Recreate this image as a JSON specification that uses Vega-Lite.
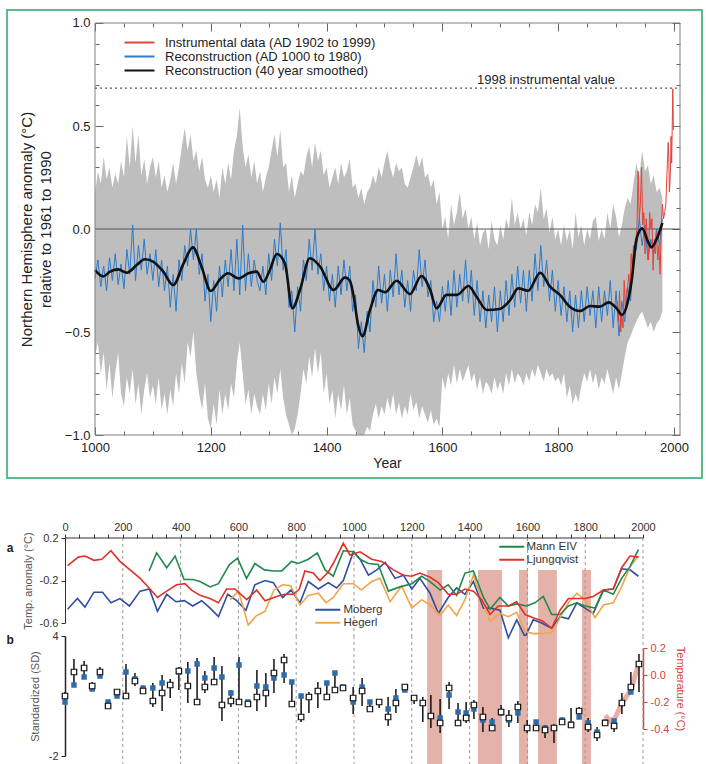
{
  "$schema": "https://vega.github.io/schema/vega-lite/v6.json",
  "padding": {"left": 6, "top": 9, "right": 0, "bottom": 0},
  "background": "white",
  "config": {"font": "Liberation Sans", "view": {"stroke": null}},
  "datasets": {
    "mbh": [
      {"yr":1000,"hi":0.17,"lo":-0.62,"rec":-0.24},{"yr":1005,"hi":0.28,"lo":-0.55,"rec":-0.15},{"yr":1010,"hi":0.22,"lo":-0.70,"rec":-0.28},{"yr":1015,"hi":0.35,"lo":-0.60,"rec":-0.18},{"yr":1020,"hi":0.24,"lo":-0.78,"rec":-0.30},{"yr":1025,"hi":0.30,"lo":-0.65,"rec":-0.14},{"yr":1030,"hi":0.20,"lo":-0.82,"rec":-0.25},{"yr":1035,"hi":0.27,"lo":-0.70,"rec":-0.12},{"yr":1040,"hi":0.22,"lo":-0.60,"rec":-0.27},{"yr":1045,"hi":0.33,"lo":-0.80,"rec":-0.17},
      {"yr":1050,"hi":0.25,"lo":-0.86,"rec":-0.29},{"yr":1055,"hi":0.45,"lo":-0.72,"rec":-0.10},{"yr":1060,"hi":0.30,"lo":-0.80,"rec":-0.22},{"yr":1065,"hi":0.50,"lo":-0.68,"rec":0.02},{"yr":1070,"hi":0.32,"lo":-0.85,"rec":-0.25},{"yr":1075,"hi":0.46,"lo":-0.75,"rec":-0.08},{"yr":1080,"hi":0.26,"lo":-0.90,"rec":-0.20},{"yr":1085,"hi":0.34,"lo":-0.78,"rec":-0.05},{"yr":1090,"hi":0.22,"lo":-0.70,"rec":-0.22},{"yr":1095,"hi":0.30,"lo":-0.82,"rec":-0.12},
      {"yr":1100,"hi":0.35,"lo":-0.76,"rec":-0.25},{"yr":1105,"hi":0.25,"lo":-0.85,"rec":-0.10},{"yr":1110,"hi":0.33,"lo":-0.72,"rec":-0.28},{"yr":1115,"hi":0.20,"lo":-0.88,"rec":-0.15},{"yr":1120,"hi":0.26,"lo":-0.80,"rec":-0.30},{"yr":1125,"hi":0.18,"lo":-0.90,"rec":-0.18},{"yr":1130,"hi":0.24,"lo":-0.78,"rec":-0.38},{"yr":1135,"hi":0.32,"lo":-0.86,"rec":-0.22},{"yr":1140,"hi":0.22,"lo":-0.70,"rec":-0.40},{"yr":1145,"hi":0.30,"lo":-0.80,"rec":-0.15},
      {"yr":1150,"hi":0.40,"lo":-0.65,"rec":-0.25},{"yr":1155,"hi":0.49,"lo":-0.75,"rec":-0.08},{"yr":1160,"hi":0.38,"lo":-0.55,"rec":-0.18},{"yr":1165,"hi":0.46,"lo":-0.62,"rec":0.00},{"yr":1170,"hi":0.33,"lo":-0.50,"rec":-0.15},{"yr":1175,"hi":0.38,"lo":-0.70,"rec":0.00},{"yr":1180,"hi":0.28,"lo":-0.80,"rec":-0.22},{"yr":1185,"hi":0.35,"lo":-0.88,"rec":-0.12},{"yr":1190,"hi":0.24,"lo":-0.75,"rec":-0.35},{"yr":1195,"hi":0.20,"lo":-0.92,"rec":-0.22},
      {"yr":1200,"hi":0.26,"lo":-0.97,"rec":-0.45},{"yr":1205,"hi":0.18,"lo":-0.85,"rec":-0.25},{"yr":1210,"hi":0.24,"lo":-0.95,"rec":-0.40},{"yr":1215,"hi":0.15,"lo":-0.78,"rec":-0.18},{"yr":1220,"hi":0.30,"lo":-0.90,"rec":-0.33},{"yr":1225,"hi":0.22,"lo":-0.80,"rec":-0.15},{"yr":1230,"hi":0.32,"lo":-0.88,"rec":-0.28},{"yr":1235,"hi":0.24,"lo":-0.75,"rec":-0.10},{"yr":1240,"hi":0.38,"lo":-0.82,"rec":-0.30},{"yr":1245,"hi":0.45,"lo":-0.65,"rec":-0.05},
      {"yr":1250,"hi":0.59,"lo":-0.55,"rec":-0.32},{"yr":1255,"hi":0.40,"lo":-0.70,"rec":0.02},{"yr":1260,"hi":0.30,"lo":-0.85,"rec":-0.30},{"yr":1265,"hi":0.36,"lo":-0.78,"rec":-0.12},{"yr":1270,"hi":0.25,"lo":-0.90,"rec":-0.28},{"yr":1275,"hi":0.33,"lo":-0.80,"rec":-0.15},{"yr":1280,"hi":0.22,"lo":-0.86,"rec":-0.25},{"yr":1285,"hi":0.28,"lo":-0.90,"rec":-0.30},{"yr":1290,"hi":0.18,"lo":-0.80,"rec":-0.18},{"yr":1295,"hi":0.25,"lo":-0.88,"rec":-0.32},
      {"yr":1300,"hi":0.30,"lo":-0.75,"rec":-0.12},{"yr":1305,"hi":0.38,"lo":-0.85,"rec":-0.25},{"yr":1310,"hi":0.46,"lo":-0.72,"rec":-0.05},{"yr":1315,"hi":0.35,"lo":-0.80,"rec":-0.18},{"yr":1320,"hi":0.48,"lo":-0.68,"rec":0.03},{"yr":1325,"hi":0.30,"lo":-0.82,"rec":-0.20},{"yr":1330,"hi":0.32,"lo":-0.90,"rec":-0.10},{"yr":1335,"hi":0.18,"lo":-0.95,"rec":-0.38},{"yr":1340,"hi":0.26,"lo":-1.00,"rec":-0.30},{"yr":1345,"hi":0.15,"lo":-0.97,"rec":-0.50},
      {"yr":1350,"hi":0.22,"lo":-0.90,"rec":-0.28},{"yr":1355,"hi":0.28,"lo":-0.80,"rec":-0.40},{"yr":1360,"hi":0.26,"lo":-0.68,"rec":-0.15},{"yr":1365,"hi":0.35,"lo":-0.75,"rec":-0.25},{"yr":1370,"hi":0.40,"lo":-0.62,"rec":-0.05},{"yr":1375,"hi":0.30,"lo":-0.72,"rec":-0.20},{"yr":1380,"hi":0.42,"lo":-0.58,"rec":0.00},{"yr":1385,"hi":0.33,"lo":-0.70,"rec":-0.22},{"yr":1390,"hi":0.38,"lo":-0.60,"rec":-0.12},{"yr":1395,"hi":0.26,"lo":-0.80,"rec":-0.30},
      {"yr":1400,"hi":0.30,"lo":-0.70,"rec":-0.18},{"yr":1405,"hi":0.20,"lo":-0.85,"rec":-0.35},{"yr":1410,"hi":0.25,"lo":-0.78,"rec":-0.22},{"yr":1415,"hi":0.30,"lo":-0.92,"rec":-0.38},{"yr":1420,"hi":0.22,"lo":-0.80,"rec":-0.18},{"yr":1425,"hi":0.32,"lo":-0.88,"rec":-0.32},{"yr":1430,"hi":0.25,"lo":-0.76,"rec":-0.15},{"yr":1435,"hi":0.28,"lo":-0.90,"rec":-0.30},{"yr":1440,"hi":0.34,"lo":-0.82,"rec":-0.18},{"yr":1445,"hi":0.20,"lo":-0.95,"rec":-0.40},
      {"yr":1450,"hi":0.22,"lo":-0.98,"rec":-0.32},{"yr":1455,"hi":0.15,"lo":-1.00,"rec":-0.58},{"yr":1460,"hi":0.20,"lo":-1.00,"rec":-0.45},{"yr":1465,"hi":0.12,"lo":-1.00,"rec":-0.60},{"yr":1470,"hi":0.18,"lo":-0.96,"rec":-0.40},{"yr":1475,"hi":0.20,"lo":-0.98,"rec":-0.50},{"yr":1480,"hi":0.26,"lo":-0.90,"rec":-0.25},{"yr":1485,"hi":0.22,"lo":-0.85,"rec":-0.38},{"yr":1490,"hi":0.30,"lo":-0.92,"rec":-0.18},{"yr":1495,"hi":0.25,"lo":-0.86,"rec":-0.36},
      {"yr":1500,"hi":0.32,"lo":-0.90,"rec":-0.22},{"yr":1505,"hi":0.38,"lo":-0.82,"rec":-0.40},{"yr":1510,"hi":0.30,"lo":-0.88,"rec":-0.20},{"yr":1515,"hi":0.25,"lo":-0.80,"rec":-0.33},{"yr":1520,"hi":0.32,"lo":-0.90,"rec":-0.12},{"yr":1525,"hi":0.28,"lo":-0.84,"rec":-0.32},{"yr":1530,"hi":0.30,"lo":-0.92,"rec":-0.20},{"yr":1535,"hi":0.22,"lo":-0.86,"rec":-0.38},{"yr":1540,"hi":0.20,"lo":-0.90,"rec":-0.25},{"yr":1545,"hi":0.25,"lo":-0.80,"rec":-0.40},
      {"yr":1550,"hi":0.30,"lo":-0.88,"rec":-0.20},{"yr":1555,"hi":0.36,"lo":-0.84,"rec":-0.30},{"yr":1560,"hi":0.30,"lo":-0.92,"rec":-0.10},{"yr":1565,"hi":0.35,"lo":-0.86,"rec":-0.28},{"yr":1570,"hi":0.25,"lo":-0.90,"rec":-0.15},{"yr":1575,"hi":0.27,"lo":-0.94,"rec":-0.33},{"yr":1580,"hi":0.20,"lo":-0.88,"rec":-0.25},{"yr":1585,"hi":0.24,"lo":-0.95,"rec":-0.45},{"yr":1590,"hi":0.12,"lo":-0.92,"rec":-0.35},{"yr":1595,"hi":0.18,"lo":-0.96,"rec":-0.45},
      {"yr":1600,"hi":0.00,"lo":-0.72,"rec":-0.28},{"yr":1605,"hi":0.06,"lo":-0.78,"rec":-0.40},{"yr":1610,"hi":-0.05,"lo":-0.70,"rec":-0.25},{"yr":1615,"hi":0.12,"lo":-0.76,"rec":-0.42},{"yr":1620,"hi":0.02,"lo":-0.66,"rec":-0.20},{"yr":1625,"hi":0.08,"lo":-0.75,"rec":-0.38},{"yr":1630,"hi":0.18,"lo":-0.68,"rec":-0.22},{"yr":1635,"hi":0.05,"lo":-0.74,"rec":-0.35},{"yr":1640,"hi":0.10,"lo":-0.70,"rec":-0.15},{"yr":1645,"hi":0.00,"lo":-0.66,"rec":-0.36},
      {"yr":1650,"hi":0.06,"lo":-0.74,"rec":-0.20},{"yr":1655,"hi":-0.05,"lo":-0.70,"rec":-0.42},{"yr":1660,"hi":0.03,"lo":-0.78,"rec":-0.25},{"yr":1665,"hi":-0.08,"lo":-0.72,"rec":-0.45},{"yr":1670,"hi":-0.02,"lo":-0.80,"rec":-0.30},{"yr":1675,"hi":0.00,"lo":-0.74,"rec":-0.48},{"yr":1680,"hi":-0.10,"lo":-0.76,"rec":-0.32},{"yr":1685,"hi":0.04,"lo":-0.80,"rec":-0.45},{"yr":1690,"hi":-0.05,"lo":-0.72,"rec":-0.28},{"yr":1695,"hi":-0.08,"lo":-0.78,"rec":-0.50},
      {"yr":1700,"hi":0.02,"lo":-0.74,"rec":-0.30},{"yr":1705,"hi":-0.05,"lo":-0.80,"rec":-0.45},{"yr":1710,"hi":0.05,"lo":-0.70,"rec":-0.25},{"yr":1715,"hi":0.00,"lo":-0.76,"rec":-0.42},{"yr":1720,"hi":0.15,"lo":-0.68,"rec":-0.22},{"yr":1725,"hi":0.02,"lo":-0.75,"rec":-0.38},{"yr":1730,"hi":0.08,"lo":-0.70,"rec":-0.18},{"yr":1735,"hi":0.00,"lo":-0.72,"rec":-0.36},{"yr":1740,"hi":0.05,"lo":-0.76,"rec":-0.20},{"yr":1745,"hi":-0.03,"lo":-0.70,"rec":-0.40},
      {"yr":1750,"hi":0.08,"lo":-0.74,"rec":-0.20},{"yr":1755,"hi":0.02,"lo":-0.68,"rec":-0.35},{"yr":1760,"hi":0.12,"lo":-0.72,"rec":-0.12},{"yr":1765,"hi":0.08,"lo":-0.66,"rec":-0.30},{"yr":1770,"hi":0.20,"lo":-0.70,"rec":-0.08},{"yr":1775,"hi":0.05,"lo":-0.74,"rec":-0.28},{"yr":1780,"hi":0.10,"lo":-0.68,"rec":-0.15},{"yr":1785,"hi":-0.02,"lo":-0.72,"rec":-0.35},{"yr":1790,"hi":0.06,"lo":-0.70,"rec":-0.20},{"yr":1795,"hi":-0.05,"lo":-0.74,"rec":-0.40},
      {"yr":1800,"hi":0.00,"lo":-0.72,"rec":-0.25},{"yr":1805,"hi":-0.08,"lo":-0.76,"rec":-0.42},{"yr":1810,"hi":0.02,"lo":-0.70,"rec":-0.28},{"yr":1815,"hi":-0.06,"lo":-0.82,"rec":-0.45},{"yr":1820,"hi":0.00,"lo":-0.76,"rec":-0.30},{"yr":1825,"hi":-0.10,"lo":-0.85,"rec":-0.50},{"yr":1830,"hi":0.08,"lo":-0.80,"rec":-0.32},{"yr":1835,"hi":-0.04,"lo":-0.84,"rec":-0.48},{"yr":1840,"hi":0.02,"lo":-0.76,"rec":-0.30},{"yr":1845,"hi":-0.08,"lo":-0.70,"rec":-0.45},
      {"yr":1850,"hi":0.00,"lo":-0.74,"rec":-0.28},{"yr":1855,"hi":-0.05,"lo":-0.68,"rec":-0.42},{"yr":1860,"hi":0.04,"lo":-0.75,"rec":-0.30},{"yr":1865,"hi":0.06,"lo":-0.70,"rec":-0.48},{"yr":1870,"hi":-0.06,"lo":-0.78,"rec":-0.28},{"yr":1875,"hi":0.00,"lo":-0.72,"rec":-0.45},{"yr":1880,"hi":-0.05,"lo":-0.75,"rec":-0.30},{"yr":1885,"hi":0.08,"lo":-0.68,"rec":-0.42},{"yr":1890,"hi":0.00,"lo":-0.74,"rec":-0.25},{"yr":1895,"hi":0.12,"lo":-0.80,"rec":-0.48},
      {"yr":1900,"hi":0.06,"lo":-0.72,"rec":-0.30},{"yr":1905,"hi":-0.04,"lo":-0.78,"rec":-0.52},{"yr":1910,"hi":0.02,"lo":-0.70,"rec":-0.35},{"yr":1915,"hi":0.10,"lo":-0.62,"rec":-0.45},{"yr":1920,"hi":0.15,"lo":-0.55,"rec":-0.28},{"yr":1925,"hi":0.12,"lo":-0.52,"rec":-0.35},{"yr":1930,"hi":0.22,"lo":-0.48,"rec":-0.12},{"yr":1935,"hi":0.32,"lo":-0.45,"rec":-0.10},{"yr":1940,"hi":0.25,"lo":-0.42,"rec":0.05},{"yr":1945,"hi":0.38,"lo":-0.40,"rec":-0.08},
      {"yr":1950,"hi":0.28,"lo":-0.44,"rec":0.02},{"yr":1955,"hi":0.31,"lo":-0.48,"rec":-0.15},{"yr":1960,"hi":0.22,"lo":-0.45,"rec":-0.05},{"yr":1965,"hi":0.26,"lo":-0.50,"rec":-0.12},{"yr":1970,"hi":0.18,"lo":-0.46,"rec":0.00},{"yr":1975,"hi":0.20,"lo":-0.44,"rec":-0.08},{"yr":1980,"hi":0.15,"lo":-0.40,"rec":0.05}
    ],
    "inst": [
      {"yr":1902,"t":-0.35},{"yr":1904,"t":-0.45},{"yr":1906,"t":-0.30},{"yr":1908,"t":-0.50},{"yr":1910,"t":-0.42},{"yr":1912,"t":-0.48},{"yr":1914,"t":-0.25},{"yr":1916,"t":-0.38},{"yr":1918,"t":-0.30},{"yr":1920,"t":-0.28},
      {"yr":1922,"t":-0.22},{"yr":1924,"t":-0.30},{"yr":1926,"t":-0.12},{"yr":1928,"t":-0.20},{"yr":1930,"t":-0.08},{"yr":1932,"t":-0.15},{"yr":1934,"t":-0.05},{"yr":1936,"t":0.00},{"yr":1938,"t":0.28},{"yr":1940,"t":0.05},
      {"yr":1942,"t":0.12},{"yr":1944,"t":0.30},{"yr":1946,"t":0.02},{"yr":1948,"t":0.08},{"yr":1950,"t":-0.12},{"yr":1952,"t":0.05},{"yr":1954,"t":-0.05},{"yr":1956,"t":-0.15},{"yr":1958,"t":0.08},{"yr":1960,"t":0.00},
      {"yr":1962,"t":0.05},{"yr":1964,"t":-0.20},{"yr":1966,"t":-0.05},{"yr":1968,"t":-0.12},{"yr":1970,"t":-0.02},{"yr":1972,"t":-0.15},{"yr":1974,"t":-0.08},{"yr":1976,"t":-0.22},{"yr":1978,"t":0.00},{"yr":1980,"t":0.12},
      {"yr":1982,"t":0.05},{"yr":1984,"t":0.08},{"yr":1986,"t":0.12},{"yr":1988,"t":0.28},{"yr":1990,"t":0.42},{"yr":1991,"t":0.36},{"yr":1992,"t":0.18},{"yr":1993,"t":0.22},{"yr":1994,"t":0.30},{"yr":1995,"t":0.45},
      {"yr":1996,"t":0.32},{"yr":1997,"t":0.50},{"yr":1998,"t":0.68},{"yr":1999,"t":0.48}
    ],
    "smooth": [
      {"yr":1000,"t":-0.20},{"yr":1014,"t":-0.23},{"yr":1026,"t":-0.207},{"yr":1040,"t":-0.196},{"yr":1055,"t":-0.212},{"yr":1072,"t":-0.175},{"yr":1086,"t":-0.147},{"yr":1101,"t":-0.159},{"yr":1118,"t":-0.207},{"yr":1135,"t":-0.272},
      {"yr":1153,"t":-0.167},{"yr":1169,"t":-0.089},{"yr":1184,"t":-0.183},{"yr":1200,"t":-0.301},{"yr":1216,"t":-0.244},{"yr":1230,"t":-0.215},{"yr":1248,"t":-0.24},{"yr":1265,"t":-0.215},{"yr":1279,"t":-0.207},{"yr":1291,"t":-0.256},
      {"yr":1302,"t":-0.199},{"yr":1314,"t":-0.121},{"yr":1328,"t":-0.167},{"yr":1341,"t":-0.385},{"yr":1354,"t":-0.296},{"yr":1371,"t":-0.142},{"yr":1389,"t":-0.183},{"yr":1412,"t":-0.296},{"yr":1432,"t":-0.235},{"yr":1440,"t":-0.25},
      {"yr":1447,"t":-0.33},{"yr":1454,"t":-0.46},{"yr":1462,"t":-0.52},{"yr":1475,"t":-0.393},{"yr":1489,"t":-0.296},{"yr":1501,"t":-0.307},{"yr":1521,"t":-0.251},{"yr":1544,"t":-0.316},{"yr":1564,"t":-0.228},{"yr":1579,"t":-0.296},
      {"yr":1590,"t":-0.385},{"yr":1607,"t":-0.32},{"yr":1625,"t":-0.32},{"yr":1645,"t":-0.277},{"yr":1659,"t":-0.329},{"yr":1677,"t":-0.393},{"yr":1699,"t":-0.388},{"yr":1717,"t":-0.345},{"yr":1731,"t":-0.288},{"yr":1748,"t":-0.30},
      {"yr":1769,"t":-0.212},{"yr":1786,"t":-0.28},{"yr":1803,"t":-0.32},{"yr":1820,"t":-0.377},{"yr":1838,"t":-0.398},{"yr":1855,"t":-0.374},{"yr":1872,"t":-0.377},{"yr":1887,"t":-0.356},{"yr":1901,"t":-0.385},{"yr":1910,"t":-0.417},
      {"yr":1918,"t":-0.377},{"yr":1927,"t":-0.248},{"yr":1935,"t":-0.053},{"yr":1945,"t":0.003},{"yr":1955,"t":-0.06},{"yr":1961,"t":-0.089},{"yr":1970,"t":-0.05},{"yr":1980,"t":0.03}
    ],
    "a1": [
      {"s":"Mann EIV","yr":291,"t":-0.11},{"s":"Mann EIV","yr":317,"t":0.06},{"s":"Mann EIV","yr":352,"t":-0.08},{"s":"Mann EIV","yr":381,"t":0.03},{"s":"Mann EIV","yr":412,"t":-0.19},{"s":"Mann EIV","yr":442,"t":-0.19},{"s":"Mann EIV","yr":467,"t":-0.21},{"s":"Mann EIV","yr":502,"t":-0.26},{"s":"Mann EIV","yr":531,"t":-0.23},{"s":"Mann EIV","yr":569,"t":-0.05},
      {"s":"Mann EIV","yr":597,"t":0.01},{"s":"Mann EIV","yr":628,"t":-0.18},{"s":"Mann EIV","yr":657,"t":-0.04},{"s":"Mann EIV","yr":690,"t":-0.10},{"s":"Mann EIV","yr":721,"t":-0.11},{"s":"Mann EIV","yr":750,"t":-0.11},{"s":"Mann EIV","yr":784,"t":-0.02},{"s":"Mann EIV","yr":807,"t":-0.04},{"s":"Mann EIV","yr":842,"t":0.0},{"s":"Mann EIV","yr":873,"t":0.06},
      {"s":"Mann EIV","yr":900,"t":-0.10},{"s":"Mann EIV","yr":928,"t":-0.16},{"s":"Mann EIV","yr":963,"t":0.08},{"s":"Mann EIV","yr":998,"t":0.07},{"s":"Mann EIV","yr":1021,"t":0.0},{"s":"Mann EIV","yr":1050,"t":-0.04},{"s":"Mann EIV","yr":1084,"t":-0.05},{"s":"Mann EIV","yr":1119,"t":-0.30},{"s":"Mann EIV","yr":1159,"t":-0.26},{"s":"Mann EIV","yr":1200,"t":-0.23},
      {"s":"Mann EIV","yr":1234,"t":-0.16},{"s":"Mann EIV","yr":1263,"t":-0.21},{"s":"Mann EIV","yr":1298,"t":-0.29},{"s":"Mann EIV","yr":1326,"t":-0.24},{"s":"Mann EIV","yr":1355,"t":-0.34},{"s":"Mann EIV","yr":1384,"t":-0.13},{"s":"Mann EIV","yr":1413,"t":-0.11},{"s":"Mann EIV","yr":1448,"t":-0.36},{"s":"Mann EIV","yr":1471,"t":-0.47},{"s":"Mann EIV","yr":1505,"t":-0.36},
      {"s":"Mann EIV","yr":1534,"t":-0.44},{"s":"Mann EIV","yr":1563,"t":-0.42},{"s":"Mann EIV","yr":1597,"t":-0.44},{"s":"Mann EIV","yr":1626,"t":-0.41},{"s":"Mann EIV","yr":1655,"t":-0.35},{"s":"Mann EIV","yr":1684,"t":-0.52},{"s":"Mann EIV","yr":1713,"t":-0.52},{"s":"Mann EIV","yr":1742,"t":-0.44},{"s":"Mann EIV","yr":1771,"t":-0.41},{"s":"Mann EIV","yr":1799,"t":-0.44},
      {"s":"Mann EIV","yr":1834,"t":-0.46},{"s":"Mann EIV","yr":1863,"t":-0.29},{"s":"Mann EIV","yr":1897,"t":-0.33},{"s":"Mann EIV","yr":1926,"t":-0.18},{"s":"Mann EIV","yr":1955,"t":-0.07},{"s":"Mann EIV","yr":1984,"t":0.09},
      {"s":"Ljungqvist","yr":9,"t":-0.06},{"s":"Ljungqvist","yr":46,"t":0.02},{"s":"Ljungqvist","yr":69,"t":0.03},{"s":"Ljungqvist","yr":100,"t":-0.01},{"s":"Ljungqvist","yr":127,"t":0.0},{"s":"Ljungqvist","yr":159,"t":0.08},{"s":"Ljungqvist","yr":190,"t":-0.02},{"s":"Ljungqvist","yr":225,"t":-0.10},{"s":"Ljungqvist","yr":260,"t":-0.18},{"s":"Ljungqvist","yr":294,"t":-0.28},
      {"s":"Ljungqvist","yr":320,"t":-0.36},{"s":"Ljungqvist","yr":352,"t":-0.30},{"s":"Ljungqvist","yr":386,"t":-0.24},{"s":"Ljungqvist","yr":415,"t":-0.23},{"s":"Ljungqvist","yr":438,"t":-0.29},{"s":"Ljungqvist","yr":467,"t":-0.34},{"s":"Ljungqvist","yr":502,"t":-0.37},{"s":"Ljungqvist","yr":531,"t":-0.41},{"s":"Ljungqvist","yr":559,"t":-0.28},{"s":"Ljungqvist","yr":588,"t":-0.28},
      {"s":"Ljungqvist","yr":629,"t":-0.38},{"s":"Ljungqvist","yr":663,"t":-0.29},{"s":"Ljungqvist","yr":692,"t":-0.39},{"s":"Ljungqvist","yr":732,"t":-0.35},{"s":"Ljungqvist","yr":761,"t":-0.33},{"s":"Ljungqvist","yr":790,"t":-0.33},{"s":"Ljungqvist","yr":811,"t":-0.28},{"s":"Ljungqvist","yr":830,"t":-0.11},{"s":"Ljungqvist","yr":859,"t":-0.13},{"s":"Ljungqvist","yr":882,"t":-0.20},
      {"s":"Ljungqvist","yr":911,"t":-0.12},{"s":"Ljungqvist","yr":928,"t":-0.04},{"s":"Ljungqvist","yr":963,"t":0.15},{"s":"Ljungqvist","yr":986,"t":0.04},{"s":"Ljungqvist","yr":1021,"t":0.07},{"s":"Ljungqvist","yr":1061,"t":0.0},{"s":"Ljungqvist","yr":1096,"t":-0.02},{"s":"Ljungqvist","yr":1136,"t":-0.10},{"s":"Ljungqvist","yr":1171,"t":-0.15},{"s":"Ljungqvist","yr":1200,"t":-0.16},
      {"s":"Ljungqvist","yr":1228,"t":-0.13},{"s":"Ljungqvist","yr":1263,"t":-0.17},{"s":"Ljungqvist","yr":1292,"t":-0.22},{"s":"Ljungqvist","yr":1326,"t":-0.33},{"s":"Ljungqvist","yr":1355,"t":-0.33},{"s":"Ljungqvist","yr":1384,"t":-0.28},{"s":"Ljungqvist","yr":1413,"t":-0.30},{"s":"Ljungqvist","yr":1442,"t":-0.38},{"s":"Ljungqvist","yr":1471,"t":-0.52},{"s":"Ljungqvist","yr":1499,"t":-0.44},
      {"s":"Ljungqvist","yr":1534,"t":-0.44},{"s":"Ljungqvist","yr":1563,"t":-0.40},{"s":"Ljungqvist","yr":1592,"t":-0.52},{"s":"Ljungqvist","yr":1620,"t":-0.55},{"s":"Ljungqvist","yr":1652,"t":-0.58},{"s":"Ljungqvist","yr":1684,"t":-0.65},{"s":"Ljungqvist","yr":1713,"t":-0.48},{"s":"Ljungqvist","yr":1742,"t":-0.37},{"s":"Ljungqvist","yr":1771,"t":-0.37},{"s":"Ljungqvist","yr":1799,"t":-0.37},
      {"s":"Ljungqvist","yr":1828,"t":-0.35},{"s":"Ljungqvist","yr":1863,"t":-0.29},{"s":"Ljungqvist","yr":1897,"t":-0.28},{"s":"Ljungqvist","yr":1926,"t":-0.08},{"s":"Ljungqvist","yr":1955,"t":0.03},{"s":"Ljungqvist","yr":1984,"t":0.02}
    ],
    "a2": [
      {"s":"Moberg","yr":9,"t":-0.47},{"s":"Moberg","yr":43,"t":-0.37},{"s":"Moberg","yr":69,"t":-0.45},{"s":"Moberg","yr":100,"t":-0.31},{"s":"Moberg","yr":130,"t":-0.31},{"s":"Moberg","yr":159,"t":-0.41},{"s":"Moberg","yr":190,"t":-0.37},{"s":"Moberg","yr":223,"t":-0.44},{"s":"Moberg","yr":260,"t":-0.30},{"s":"Moberg","yr":292,"t":-0.28},
      {"s":"Moberg","yr":320,"t":-0.49},{"s":"Moberg","yr":352,"t":-0.33},{"s":"Moberg","yr":384,"t":-0.40},{"s":"Moberg","yr":413,"t":-0.39},{"s":"Moberg","yr":442,"t":-0.44},{"s":"Moberg","yr":473,"t":-0.39},{"s":"Moberg","yr":502,"t":-0.46},{"s":"Moberg","yr":531,"t":-0.54},{"s":"Moberg","yr":563,"t":-0.33},{"s":"Moberg","yr":594,"t":-0.39},
      {"s":"Moberg","yr":626,"t":-0.48},{"s":"Moberg","yr":657,"t":-0.24},{"s":"Moberg","yr":692,"t":-0.20},{"s":"Moberg","yr":721,"t":-0.22},{"s":"Moberg","yr":753,"t":-0.36},{"s":"Moberg","yr":782,"t":-0.29},{"s":"Moberg","yr":813,"t":-0.41},{"s":"Moberg","yr":842,"t":-0.21},{"s":"Moberg","yr":877,"t":-0.28},{"s":"Moberg","yr":911,"t":-0.22},
      {"s":"Moberg","yr":940,"t":-0.27},{"s":"Moberg","yr":963,"t":-0.20},{"s":"Moberg","yr":998,"t":0.07},{"s":"Moberg","yr":1021,"t":0.0},{"s":"Moberg","yr":1050,"t":-0.15},{"s":"Moberg","yr":1079,"t":-0.10},{"s":"Moberg","yr":1108,"t":-0.03},{"s":"Moberg","yr":1142,"t":-0.18},{"s":"Moberg","yr":1171,"t":-0.15},{"s":"Moberg","yr":1200,"t":-0.28},
      {"s":"Moberg","yr":1228,"t":-0.18},{"s":"Moberg","yr":1263,"t":-0.32},{"s":"Moberg","yr":1292,"t":-0.51},{"s":"Moberg","yr":1326,"t":-0.36},{"s":"Moberg","yr":1355,"t":-0.27},{"s":"Moberg","yr":1384,"t":-0.33},{"s":"Moberg","yr":1413,"t":-0.21},{"s":"Moberg","yr":1448,"t":-0.46},{"s":"Moberg","yr":1471,"t":-0.46},{"s":"Moberg","yr":1505,"t":-0.48},
      {"s":"Moberg","yr":1534,"t":-0.74},{"s":"Moberg","yr":1563,"t":-0.57},{"s":"Moberg","yr":1592,"t":-0.73},{"s":"Moberg","yr":1620,"t":-0.57},{"s":"Moberg","yr":1649,"t":-0.60},{"s":"Moberg","yr":1684,"t":-0.65},{"s":"Moberg","yr":1713,"t":-0.54},{"s":"Moberg","yr":1742,"t":-0.56},{"s":"Moberg","yr":1771,"t":-0.41},{"s":"Moberg","yr":1799,"t":-0.46},
      {"s":"Moberg","yr":1828,"t":-0.51},{"s":"Moberg","yr":1863,"t":-0.29},{"s":"Moberg","yr":1897,"t":-0.28},{"s":"Moberg","yr":1926,"t":-0.09},{"s":"Moberg","yr":1955,"t":-0.10},{"s":"Moberg","yr":1984,"t":-0.16},
      {"s":"Hegerl","yr":571,"t":-0.38},{"s":"Hegerl","yr":600,"t":-0.30},{"s":"Hegerl","yr":634,"t":-0.62},{"s":"Hegerl","yr":663,"t":-0.53},{"s":"Hegerl","yr":692,"t":-0.49},{"s":"Hegerl","yr":723,"t":-0.29},{"s":"Hegerl","yr":753,"t":-0.24},{"s":"Hegerl","yr":781,"t":-0.25},{"s":"Hegerl","yr":813,"t":-0.43},{"s":"Hegerl","yr":842,"t":-0.34},
      {"s":"Hegerl","yr":877,"t":-0.32},{"s":"Hegerl","yr":903,"t":-0.41},{"s":"Hegerl","yr":928,"t":-0.36},{"s":"Hegerl","yr":963,"t":-0.23},{"s":"Hegerl","yr":998,"t":-0.23},{"s":"Hegerl","yr":1025,"t":-0.29},{"s":"Hegerl","yr":1061,"t":-0.21},{"s":"Hegerl","yr":1090,"t":-0.18},{"s":"Hegerl","yr":1125,"t":-0.40},{"s":"Hegerl","yr":1165,"t":-0.25},
      {"s":"Hegerl","yr":1200,"t":-0.46},{"s":"Hegerl","yr":1234,"t":-0.38},{"s":"Hegerl","yr":1263,"t":-0.43},{"s":"Hegerl","yr":1298,"t":-0.53},{"s":"Hegerl","yr":1326,"t":-0.43},{"s":"Hegerl","yr":1355,"t":-0.53},{"s":"Hegerl","yr":1384,"t":-0.38},{"s":"Hegerl","yr":1413,"t":-0.15},{"s":"Hegerl","yr":1442,"t":-0.38},{"s":"Hegerl","yr":1471,"t":-0.58},
      {"s":"Hegerl","yr":1505,"t":-0.51},{"s":"Hegerl","yr":1534,"t":-0.54},{"s":"Hegerl","yr":1563,"t":-0.50},{"s":"Hegerl","yr":1592,"t":-0.68},{"s":"Hegerl","yr":1620,"t":-0.70},{"s":"Hegerl","yr":1649,"t":-0.70},{"s":"Hegerl","yr":1684,"t":-0.69},{"s":"Hegerl","yr":1713,"t":-0.55},{"s":"Hegerl","yr":1742,"t":-0.41},{"s":"Hegerl","yr":1771,"t":-0.32},
      {"s":"Hegerl","yr":1799,"t":-0.38},{"s":"Hegerl","yr":1834,"t":-0.55},{"s":"Hegerl","yr":1863,"t":-0.43},{"s":"Hegerl","yr":1897,"t":-0.41},{"s":"Hegerl","yr":1926,"t":-0.26},{"s":"Hegerl","yr":1955,"t":-0.07},{"s":"Hegerl","yr":1984,"t":0.03}
    ],
    "bars": [{"x0":1253,"x1":1305},{"x0":1429,"x1":1512},{"x0":1571,"x1":1602},{"x0":1637,"x1":1702},{"x0":1789,"x1":1820}],
    "grid": [{"x":200},{"x":400},{"x":600},{"x":800},{"x":1000},{"x":1200},{"x":1400},{"x":1600},{"x":1800},{"x":2000}],
    "pb": [
      {"yr":0,"k":1.0,"b":0.7,"lo":0.8,"hi":1.2},{"yr":31,"k":2.2,"b":1.55,"lo":1.5,"hi":2.85},{"yr":66,"k":2.4,"b":1.95,"lo":1.95,"hi":2.75},{"yr":94,"k":1.5,"b":1.35,"lo":1.3,"hi":1.7},{"yr":121,"k":2.2,"b":2.0,"lo":2.0,"hi":2.45},
      {"yr":149,"k":0.5,"b":0.7,"lo":0.5,"hi":0.7},{"yr":180,"k":1.2,"b":1.0,"lo":1.0,"hi":1.2},{"yr":211,"k":1.0,"b":2.2,"lo":1.0,"hi":2.6},{"yr":242,"k":1.75,"b":1.85,"lo":1.5,"hi":2.15},{"yr":270,"k":1.25,"b":1.4,"lo":1.2,"hi":1.45},
      {"yr":304,"k":0.75,"b":1.4,"lo":0.45,"hi":1.65},{"yr":336,"k":1.15,"b":1.65,"lo":0.25,"hi":2.05},{"yr":364,"k":1.55,"b":1.55,"lo":0.9,"hi":1.85},{"yr":394,"k":2.25,"b":2.2,"lo":1.3,"hi":2.45},{"yr":425,"k":1.5,"b":2.25,"lo":0.65,"hi":2.7},
      {"yr":457,"k":0.7,"b":2.6,"lo":0.7,"hi":2.9},{"yr":484,"k":1.45,"b":1.9,"lo":1.15,"hi":2.25},{"yr":516,"k":1.7,"b":2.4,"lo":1.55,"hi":2.95},{"yr":543,"k":0.55,"b":1.95,"lo":-0.25,"hi":2.5},{"yr":574,"k":0.75,"b":1.15,"lo":0.45,"hi":1.3},
      {"yr":602,"k":0.7,"b":2.55,"lo":0.7,"hi":2.95},{"yr":633,"k":0.6,"b":0.7,"lo":0.6,"hi":0.7},{"yr":664,"k":0.95,"b":1.5,"lo":0.25,"hi":2.3},{"yr":695,"k":1.15,"b":1.45,"lo":0.45,"hi":2.15},{"yr":723,"k":2.15,"b":1.9,"lo":1.15,"hi":2.85},
      {"yr":758,"k":2.8,"b":2.05,"lo":1.65,"hi":3.1},{"yr":785,"k":0.6,"b":1.7,"lo":0.45,"hi":1.7},{"yr":817,"k":-0.05,"b":1.0,"lo":-0.3,"hi":1.0},{"yr":844,"k":0.95,"b":0.95,"lo":0.15,"hi":1.2},{"yr":875,"k":1.25,"b":1.25,"lo":0.4,"hi":1.7},
      {"yr":906,"k":0.95,"b":1.65,"lo":0.95,"hi":1.65},{"yr":934,"k":1.3,"b":2.15,"lo":1.15,"hi":2.15},{"yr":962,"k":1.4,"b":1.45,"lo":1.25,"hi":1.55},{"yr":997,"k":0.9,"b":0.7,"lo":0.1,"hi":1.45},{"yr":1028,"k":1.25,"b":1.45,"lo":0.5,"hi":1.9},
      {"yr":1055,"k":0.35,"b":0.7,"lo":0.35,"hi":0.7},{"yr":1087,"k":0.7,"b":0.7,"lo":0.4,"hi":0.8},{"yr":1118,"k":-0.05,"b":0.35,"lo":-0.5,"hi":0.95},{"yr":1145,"k":0.65,"b":0.9,"lo":0.15,"hi":1.35},{"yr":1176,"k":1.45,"b":1.3,"lo":1.3,"hi":1.45},
      {"yr":1208,"k":0.9,"b":0.9,"lo":0.6,"hi":1.05},{"yr":1238,"k":0.65,"b":0.65,"lo":-0.3,"hi":0.95},{"yr":1266,"k":0.0,"b":0.0,"lo":-0.6,"hi":1.05},{"yr":1298,"k":-0.35,"b":-0.1,"lo":-0.85,"hi":0.85},{"yr":1329,"k":1.4,"b":1.05,"lo":0.35,"hi":1.7},
      {"yr":1360,"k":-0.35,"b":0.2,"lo":-0.5,"hi":0.65},{"yr":1388,"k":-0.1,"b":0.15,"lo":-0.35,"hi":0.7},{"yr":1415,"k":0.55,"b":0.35,"lo":-0.15,"hi":0.8},{"yr":1446,"k":-0.05,"b":-0.2,"lo":-0.8,"hi":0.45},{"yr":1478,"k":-0.6,"b":-0.3,"lo":-0.7,"hi":-0.1},
      {"yr":1509,"k":0.2,"b":0.15,"lo":0.0,"hi":0.55},{"yr":1536,"k":-0.1,"b":-0.2,"lo":-0.55,"hi":0.3},{"yr":1567,"k":0.45,"b":0.15,"lo":-0.35,"hi":0.75},{"yr":1599,"k":-0.6,"b":-0.6,"lo":-0.85,"hi":-0.2},{"yr":1630,"k":-0.6,"b":-0.3,"lo":-0.65,"hi":-0.2},
      {"yr":1661,"k":-0.7,"b":-0.6,"lo":-1.1,"hi":-0.45},{"yr":1692,"k":-0.6,"b":-0.6,"lo":-1.35,"hi":-0.4},{"yr":1720,"k":-0.3,"b":-0.2,"lo":-0.4,"hi":-0.15},{"yr":1751,"k":-0.45,"b":-0.4,"lo":-0.55,"hi":0.4},{"yr":1779,"k":0.25,"b":-0.05,"lo":-0.05,"hi":0.45},
      {"yr":1810,"k":-0.55,"b":-0.35,"lo":-0.8,"hi":-0.1},{"yr":1841,"k":-0.95,"b":-0.8,"lo":-1.25,"hi":-0.55},{"yr":1869,"k":-0.35,"b":-0.3,"lo":-0.5,"hi":-0.2},{"yr":1900,"k":-0.5,"b":-0.25,"lo":-0.8,"hi":-0.15},{"yr":1927,"k":0.65,"b":0.65,"lo":0.1,"hi":1.15},
      {"yr":1958,"k":1.45,"b":1.2,"lo":1.2,"hi":2.2},{"yr":1986,"k":2.6,"b":2.6,"lo":1.2,"hi":3.1}
    ],
    "pinst": [{"yr":1869,"t":-0.30},{"yr":1886,"t":-0.34},{"yr":1903,"t":-0.32},{"yr":1927,"t":-0.21},{"yr":1958,"t":-0.11},{"yr":1986,"t":0.09}]
  },
  "spacing": 42,
  "vconcat": [
    {
      "width": 695,
      "height": 468,
      "view": {"stroke": "#5dbb8c", "strokeWidth": 2},
      "resolve": {"axis": {"x": "independent", "y": "independent"}},
      "layer": [
        {
          "data": {"name": "mbh"},
          "mark": {"type": "area", "color": "#bebebe"},
          "encoding": {
            "x": {"field": "yr", "type": "quantitative", "scale": {"domain": [848, 2048.4], "nice": false, "zero": false},
              "axis": {"orient": "bottom", "offset": -43, "values": [1000,1200,1400,1600,1800,2000], "format": "d", "ticks": false, "domain": false, "grid": false, "labelPadding": 6, "labelFontSize": 13, "labelColor": "#222", "labelFlush": false, "labelOverlap": false, "title": "Year", "titleFontSize": 14, "titleFontWeight": "normal", "titleColor": "#222", "titleX": 380, "titleY": 21, "titleBaseline": "top"}},
            "y": {"field": "hi", "type": "quantitative", "scale": {"domain": [-1.2087, 1.0631], "nice": false, "zero": false},
              "axis": {"orient": "left", "offset": -88, "values": [-1,-0.5,0,0.5,1], "format": ".1f", "ticks": false, "domain": false, "grid": false, "labelPadding": 5, "labelFontSize": 13, "labelColor": "#222", "labelOverlap": false, "title": ["Northern Hemisphere anomaly (°C)", "relative to 1961 to 1990"], "titleFontSize": 15, "titleFontWeight": "normal", "titleColor": "#222", "titleX": -61, "titleY": 219, "titleLineHeight": 19}},
            "y2": {"field": "lo"}
          }
        },
        {
          "data": {"values": [{"x": 1000, "x2": 2010.4, "y": 0}]},
          "mark": {"type": "rule", "color": "#555555", "strokeWidth": 1},
          "encoding": {
            "x": {"field": "x", "type": "quantitative", "scale": {"domain": [848, 2048.4], "nice": false, "zero": false},
              "axis": {"orient": "bottom", "offset": -43, "values": [1000,1200,1400,1600,1800,2000], "labels": false, "domain": false, "grid": false, "ticks": true, "tickSize": -8, "tickColor": "#666666", "title": null}},
            "x2": {"field": "x2"},
            "y": {"field": "y", "type": "quantitative", "scale": {"domain": [-1.2087, 1.0631], "nice": false, "zero": false},
              "axis": {"orient": "left", "offset": -88, "values": [-1,-0.5,0,0.5,1], "labels": false, "domain": false, "grid": false, "ticks": true, "tickSize": -8, "tickColor": "#666666", "title": null}}
          }
        },
        {
          "data": {"name": "mbh"},
          "mark": {"type": "line", "strokeWidth": 1},
          "encoding": {
            "x": {"field": "yr", "type": "quantitative", "scale": {"domain": [848, 2048.4], "nice": false, "zero": false},
              "axis": {"orient": "bottom", "offset": -43, "values": [1050,1100,1150,1250,1300,1350,1450,1500,1550,1650,1700,1750,1850,1900,1950], "labels": false, "domain": false, "grid": false, "ticks": true, "tickSize": -4, "tickColor": "#666666", "title": null}},
            "y": {"field": "rec", "type": "quantitative", "scale": {"domain": [-1.2087, 1.0631], "nice": false, "zero": false},
              "axis": {"orient": "left", "offset": -88, "values": [-0.9,-0.8,-0.7,-0.6,-0.4,-0.3,-0.2,-0.1,0.1,0.2,0.3,0.4,0.6,0.7,0.8,0.9], "labels": false, "domain": false, "grid": false, "ticks": true, "tickSize": -4, "tickColor": "#666666", "title": null}},
            "color": {"datum": "Reconstruction (AD 1000 to 1980)", "type": "nominal",
              "scale": {"domain": ["Instrumental data (AD 1902 to 1999)", "Reconstruction (AD 1000 to 1980)", "Reconstruction (40 year smoothed)"], "range": ["#e0443c", "#2b7bcc", "#111111"]},
              "legend": {"orient": "none", "legendX": 126, "legendY": 26, "title": null, "symbolType": "M-5,0H5", "symbolSize": 36, "symbolStrokeWidth": 2, "labelFontSize": 13, "labelColor": "#222", "labelLimit": 400, "rowPadding": 0, "labelOffset": 19}}
          }
        },
        {
          "data": {"name": "inst"},
          "mark": {"type": "line", "strokeWidth": 1},
          "encoding": {
            "x": {"field": "yr", "type": "quantitative", "scale": {"domain": [848, 2048.4], "nice": false, "zero": false},
              "axis": {"orient": "top", "offset": -13, "values": [1000,1200,1400,1600,1800,2000], "labels": false, "domain": false, "grid": false, "ticks": true, "tickSize": -8, "tickColor": "#666666", "title": null}},
            "y": {"field": "t", "type": "quantitative", "scale": {"domain": [-1.2087, 1.0631], "nice": false, "zero": false},
              "axis": {"orient": "right", "offset": -22, "values": [-1,-0.5,0,0.5,1], "labels": false, "domain": false, "grid": false, "ticks": true, "tickSize": -8, "tickColor": "#666666", "title": null}},
            "color": {"datum": "Instrumental data (AD 1902 to 1999)", "type": "nominal",
              "scale": {"domain": ["Instrumental data (AD 1902 to 1999)", "Reconstruction (AD 1000 to 1980)", "Reconstruction (40 year smoothed)"], "range": ["#e0443c", "#2b7bcc", "#111111"]},
              "legend": {"orient": "none", "legendX": 126, "legendY": 26, "title": null, "symbolType": "M-5,0H5", "symbolSize": 36, "symbolStrokeWidth": 2, "labelFontSize": 13, "labelColor": "#222", "labelLimit": 400, "rowPadding": 0, "labelOffset": 19}}
          }
        },
        {
          "data": {"name": "smooth"},
          "mark": {"type": "line", "strokeWidth": 2.6, "interpolate": "monotone"},
          "encoding": {
            "x": {"field": "yr", "type": "quantitative", "scale": {"domain": [848, 2048.4], "nice": false, "zero": false},
              "axis": {"orient": "top", "offset": -13, "values": [1050,1100,1150,1250,1300,1350,1450,1500,1550,1650,1700,1750,1850,1900,1950], "labels": false, "domain": false, "grid": false, "ticks": true, "tickSize": -4, "tickColor": "#666666", "title": null}},
            "y": {"field": "t", "type": "quantitative", "scale": {"domain": [-1.2087, 1.0631], "nice": false, "zero": false},
              "axis": {"orient": "right", "offset": -22, "values": [-0.9,-0.8,-0.7,-0.6,-0.4,-0.3,-0.2,-0.1,0.1,0.2,0.3,0.4,0.6,0.7,0.8,0.9], "labels": false, "domain": false, "grid": false, "ticks": true, "tickSize": -4, "tickColor": "#666666", "title": null}},
            "color": {"datum": "Reconstruction (40 year smoothed)", "type": "nominal",
              "scale": {"domain": ["Instrumental data (AD 1902 to 1999)", "Reconstruction (AD 1000 to 1980)", "Reconstruction (40 year smoothed)"], "range": ["#e0443c", "#2b7bcc", "#111111"]},
              "legend": {"orient": "none", "legendX": 126, "legendY": 26, "title": null, "symbolType": "M-5,0H5", "symbolSize": 36, "symbolStrokeWidth": 2, "labelFontSize": 13, "labelColor": "#222", "labelLimit": 400, "rowPadding": 0, "labelOffset": 19}}
          }
        },
        {
          "data": {"values": [{"x": 1000, "x2": 1000, "y": -1, "y2": 1}, {"x": 2010.4, "x2": 2010.4, "y": -1, "y2": 1}, {"x": 1000, "x2": 2010.4, "y": 1, "y2": 1}, {"x": 1000, "x2": 2010.4, "y": -1, "y2": -1}]},
          "mark": {"type": "rule", "color": "#808080", "strokeWidth": 1},
          "encoding": {
            "x": {"field": "x", "type": "quantitative", "scale": {"domain": [848, 2048.4], "nice": false, "zero": false}, "axis": null},
            "x2": {"field": "x2"},
            "y": {"field": "y", "type": "quantitative", "scale": {"domain": [-1.2087, 1.0631], "nice": false, "zero": false}, "axis": null},
            "y2": {"field": "y2"}
          }
        },
        {
          "data": {"values": [{"x": 1000, "x2": 2010.4, "y": 0.684}]},
          "mark": {"type": "rule", "color": "#555555", "strokeWidth": 1.2, "strokeDash": [2, 3]},
          "encoding": {
            "x": {"field": "x", "type": "quantitative", "scale": {"domain": [848, 2048.4], "nice": false, "zero": false}, "axis": null},
            "x2": {"field": "x2"},
            "y": {"field": "y", "type": "quantitative", "scale": {"domain": [-1.2087, 1.0631], "nice": false, "zero": false}, "axis": null}
          }
        },
        {
          "data": {"values": [{"x": 1779, "y": 0.723, "label": "1998 instrumental value"}]},
          "mark": {"type": "text", "fontSize": 13, "color": "#222", "align": "center", "baseline": "middle"},
          "encoding": {
            "x": {"field": "x", "type": "quantitative", "scale": {"domain": [848, 2048.4], "nice": false, "zero": false}, "axis": null},
            "y": {"field": "y", "type": "quantitative", "scale": {"domain": [-1.2087, 1.0631], "nice": false, "zero": false}, "axis": null},
            "text": {"field": "label"}
          }
        }
      ]
    },
    {
      "spacing": 13,
      "bounds": "flush",
      "vconcat": [
        {
          "width": 636,
          "height": 85,
          "resolve": {"scale": {"color": "independent"}, "axis": {"x": "independent", "y": "independent"}},
          "layer": [
            {
              "data": {"name": "bars"},
              "mark": {"type": "rect", "color": "#e4b2a8"},
              "encoding": {
                "x": {"field": "x0", "type": "quantitative", "scale": {"domain": [-200.7, 2000], "nice": false, "zero": false},
                  "axis": {"orient": "top", "values": [0,50,100,150,200,250,300,350,400,450,500,550,600,650,700,750,800,850,900,950,1000,1050,1100,1150,1200,1250,1300,1350,1400,1450,1500,1550,1600,1650,1700,1750,1800,1850,1900,1950,2000], "labelExpr": "datum.value % 200 === 0 ? datum.label : ''", "format": "d", "domain": false, "tickSize": 4, "tickColor": "#333", "labelFontSize": 11, "labelColor": "#333", "labelPadding": 2, "labelFlush": false, "labelOverlap": false, "grid": false, "title": null}},
                "x2": {"field": "x1"},
                "y": {"datum": -0.1, "type": "quantitative", "scale": {"domain": [-0.6, 0.2], "nice": false, "zero": false},
                  "axis": {"orient": "left", "offset": -58, "values": [0.2, -0.2, -0.6], "labelExpr": "replace(format(datum.value, '.1f'), '−', '-')", "tickSize": 4, "tickColor": "#333", "domainColor": "#333", "labelFontSize": 11, "labelColor": "#333", "labelPadding": 3, "grid": false, "title": "Temp. anomaly (°C)", "titleFontSize": 11, "titleFontWeight": "normal", "titleColor": "#555", "titlePadding": 6}},
                "y2": {"datum": -0.722}
              }
            },
            {
              "data": {"values": [{"x": 0, "x2": 2000, "y": 0.2}]},
              "mark": {"type": "rule", "color": "#333", "strokeWidth": 1},
              "encoding": {
                "x": {"field": "x", "type": "quantitative", "scale": {"domain": [-200.7, 2000], "nice": false, "zero": false}, "axis": null},
                "x2": {"field": "x2"},
                "y": {"field": "y", "type": "quantitative", "scale": {"domain": [-0.6, 0.2], "nice": false, "zero": false}, "axis": null}
              }
            },
            {
              "data": {"name": "grid"},
              "mark": {"type": "rule", "color": "#9a9a9a", "strokeDash": [3, 3], "strokeWidth": 1},
              "encoding": {
                "x": {"field": "x", "type": "quantitative", "scale": {"domain": [-200.7, 2000], "nice": false, "zero": false}, "axis": null},
                "y": {"datum": 0.2, "type": "quantitative", "scale": {"domain": [-0.6, 0.2], "nice": false, "zero": false}, "axis": null},
                "y2": {"datum": -0.722}
              }
            },
            {
              "data": {"name": "a2"},
              "mark": {"type": "line", "strokeWidth": 1.6},
              "encoding": {
                "x": {"field": "yr", "type": "quantitative", "scale": {"domain": [-200.7, 2000], "nice": false, "zero": false}, "axis": null},
                "y": {"field": "t", "type": "quantitative", "scale": {"domain": [-0.6, 0.2], "nice": false, "zero": false}, "axis": null},
                "color": {"field": "s", "type": "nominal", "scale": {"domain": ["Moberg", "Hegerl"], "range": ["#2f4ea0", "#f2a54a"]},
                  "legend": {"orient": "none", "legendX": 315, "legendY": 66, "title": null, "symbolType": "M-5,0H5", "symbolSize": 25, "symbolStrokeWidth": 2, "labelFontSize": 11.5, "labelColor": "#333", "rowPadding": 0, "labelOffset": 10}}
              }
            },
            {
              "data": {"name": "a1"},
              "mark": {"type": "line", "strokeWidth": 1.6},
              "encoding": {
                "x": {"field": "yr", "type": "quantitative", "scale": {"domain": [-200.7, 2000], "nice": false, "zero": false}, "axis": null},
                "y": {"field": "t", "type": "quantitative", "scale": {"domain": [-0.6, 0.2], "nice": false, "zero": false}, "axis": null},
                "color": {"field": "s", "type": "nominal", "scale": {"domain": ["Mann EIV", "Ljungqvist"], "range": ["#1f8a4c", "#e0312a"]},
                  "legend": {"orient": "none", "legendX": 499, "legendY": 3, "title": null, "symbolType": "M-5,0H5", "symbolSize": 25, "symbolStrokeWidth": 2, "labelFontSize": 11.5, "labelColor": "#333", "rowPadding": 0, "labelOffset": 9}}
              }
            },
            {
              "data": {"values": [{"x": -190, "y": 0.106, "label": "a"}]},
              "mark": {"type": "text", "fontSize": 12, "fontWeight": "bold", "color": "#222", "align": "center", "baseline": "middle"},
              "encoding": {
                "x": {"field": "x", "type": "quantitative", "scale": {"domain": [-200.7, 2000], "nice": false, "zero": false}, "axis": null},
                "y": {"field": "y", "type": "quantitative", "scale": {"domain": [-0.6, 0.2], "nice": false, "zero": false}, "axis": null},
                "text": {"field": "label"}
              }
            }
          ]
        },
        {
          "width": 636,
          "height": 120,
          "resolve": {"scale": {"y": "independent"}, "axis": {"x": "independent", "y": "independent"}},
          "layer": [
            {
              "layer": [
                {
                  "data": {"name": "bars"},
                  "mark": {"type": "rect", "color": "#e4b2a8"},
                  "encoding": {
                    "x": {"field": "x0", "type": "quantitative", "scale": {"domain": [-200.7, 2000], "nice": false, "zero": false}, "axis": null},
                    "x2": {"field": "x1"},
                    "y": {"datum": 4, "type": "quantitative", "scale": {"domain": [-2, 4], "nice": false, "zero": false},
                      "axis": {"orient": "left", "offset": -58, "values": [-2,-1,0,1,2,3,4], "labelExpr": "datum.value % 2 === 0 ? replace(datum.label, '−', '-') : ''", "tickSize": 4, "tickColor": "#222", "domainColor": "#222", "domainWidth": 1.5, "labelFontSize": 11, "labelColor": "#333", "labelPadding": 3, "grid": false, "title": "Standardized (SD)", "titleFontSize": 11, "titleFontWeight": "normal", "titleColor": "#555", "titlePadding": 8}},
                    "y2": {"datum": -2.4}
                  }
                },
                {
                  "data": {"name": "grid"},
                  "mark": {"type": "rule", "color": "#9a9a9a", "strokeDash": [3, 3], "strokeWidth": 1},
                  "encoding": {
                    "x": {"field": "x", "type": "quantitative", "scale": {"domain": [-200.7, 2000], "nice": false, "zero": false}, "axis": null},
                    "y": {"datum": 4, "type": "quantitative", "scale": {"domain": [-2, 4], "nice": false, "zero": false}},
                    "y2": {"datum": -2.4}
                  }
                },
                {
                  "data": {"values": [{"x": -190, "y": 3.8, "label": "b"}]},
                  "mark": {"type": "text", "fontSize": 12, "fontWeight": "bold", "color": "#222", "align": "center", "baseline": "middle"},
                  "encoding": {
                    "x": {"field": "x", "type": "quantitative", "scale": {"domain": [-200.7, 2000], "nice": false, "zero": false}, "axis": null},
                    "y": {"field": "y", "type": "quantitative", "scale": {"domain": [-2, 4], "nice": false, "zero": false}},
                    "text": {"field": "label"}
                  }
                }
              ]
            },
            {
              "data": {"name": "pinst"},
              "mark": {"type": "line", "color": "#e8a59c", "strokeWidth": 5, "opacity": 0.9},
              "encoding": {
                "x": {"field": "yr", "type": "quantitative", "scale": {"domain": [-200.7, 2000], "nice": false, "zero": false}, "axis": null},
                "y": {"field": "t", "type": "quantitative", "scale": {"domain": [-0.4, 0.2], "range": [93, 12], "nice": false, "zero": false},
                  "axis": {"orient": "right", "values": [0.2, 0, -0.2, -0.4], "labelExpr": "replace(format(datum.value, '.1f'), '−', '-')", "tickSize": 4, "tickColor": "#d0443c", "domainColor": "#d0443c", "domainWidth": 1.5, "labelFontSize": 11, "labelColor": "#d0443c", "labelPadding": 3, "grid": false, "title": "Temperature (°C)", "titleFontSize": 11, "titleFontWeight": "normal", "titleColor": "#d0443c", "titlePadding": 6}}
              }
            },
            {
              "layer": [
                {
                  "data": {"name": "pb"},
                  "mark": {"type": "rule", "color": "#111", "strokeWidth": 1.5},
                  "encoding": {
                    "x": {"field": "yr", "type": "quantitative", "scale": {"domain": [-200.7, 2000], "nice": false, "zero": false}, "axis": null},
                    "y": {"field": "lo", "type": "quantitative", "scale": {"domain": [-2, 4], "nice": false, "zero": false}, "axis": null},
                    "y2": {"field": "hi"}
                  }
                },
                {
                  "data": {"name": "pb"},
                  "mark": {"type": "point", "shape": "square", "filled": true, "color": "#2f6ba8", "size": 30, "opacity": 1},
                  "encoding": {
                    "x": {"field": "yr", "type": "quantitative", "scale": {"domain": [-200.7, 2000], "nice": false, "zero": false}, "axis": null},
                    "y": {"field": "b", "type": "quantitative", "scale": {"domain": [-2, 4], "nice": false, "zero": false}, "axis": null}
                  }
                },
                {
                  "data": {"name": "pb"},
                  "mark": {"type": "point", "shape": "square", "filled": true, "fill": "white", "stroke": "#111", "strokeWidth": 1.2, "size": 30, "opacity": 1},
                  "encoding": {
                    "x": {"field": "yr", "type": "quantitative", "scale": {"domain": [-200.7, 2000], "nice": false, "zero": false}, "axis": null},
                    "y": {"field": "k", "type": "quantitative", "scale": {"domain": [-2, 4], "nice": false, "zero": false}, "axis": null}
                  }
                }
              ]
            }
          ]
        }
      ]
    }
  ]
}
